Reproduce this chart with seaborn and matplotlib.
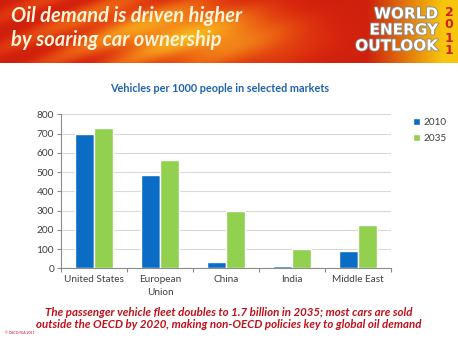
import numpy as np
import pandas as pd
import matplotlib
matplotlib.use("Agg")
import matplotlib.pyplot as plt
import matplotlib.patheffects as pe
import seaborn as sns
from matplotlib.colors import LinearSegmentedColormap

# Vehicles per 1000 people
markets = ["United States", "European\nUnion", "China", "India", "Middle East"]
v2010 = [696, 483, 33, 12, 90]
v2035 = [730, 563, 298, 102, 225]
years = ["2010", "2035"]
y_ticks = [0, 100, 200, 300, 400, 500, 600, 700, 800]

df = pd.DataFrame({
    "market": markets * 2,
    "year": [years[0]] * len(markets) + [years[1]] * len(markets),
    "vehicles": v2010 + v2035,
})

sns.set_theme(style="white")
plt.rcParams["font.family"] = ["Lato", "DejaVu Sans"]

W, H = 458, 343
fig = plt.figure(figsize=(W / 100, H / 100), dpi=100)
fig.patch.set_facecolor("white")

# ---- header banner ----
hdr = fig.add_axes([0, 1 - 63 / H, 1, 63 / H])
hdr.set_axis_off()
nx, ny = 460, 63
xx, yy = np.meshgrid(np.linspace(0, 1, nx), np.linspace(0, 1, ny))
glow = np.exp(-((xx - 0.42) ** 2 / 0.05 + (yy - 0.55) ** 2 / 0.25))
streak = 0.25 * np.sin(18 * xx + 6 * yy) ** 2 * np.exp(-((xx - 0.2) ** 2) / 0.08)
field = np.clip(0.15 + 0.65 * glow + streak, 0, 1)
cmap = LinearSegmentedColormap.from_list(
    "banner", ["#b8140c", "#d8260e", "#ea5a12", "#f5901a", "#f8c21a"])
hdr.imshow(field, cmap=cmap, aspect="auto", extent=[0, 1, 0, 1], origin="upper",
           vmin=0, vmax=1)
# yellow right corner
yel = np.clip((xx - 0.8) * 6, 0, 1)
rgba = np.zeros((ny, nx, 4))
rgba[..., 0] = 0.97
rgba[..., 1] = 0.78
rgba[..., 2] = 0.05
rgba[..., 3] = yel
hdr.imshow(rgba, aspect="auto", extent=[0, 1, 0, 1], origin="upper")
hdr.set_xlim(0, 1)
hdr.set_ylim(0, 1)

fig.text(11 / W, 1 - 16 / H, "Oil demand is driven higher", color="#fff3d8",
         fontsize=14.5, fontweight="bold", fontstyle="italic", va="center", ha="left")
fig.text(11 / W, 1 - 40 / H, "by soaring car ownership", color="#fff3d8",
         fontsize=14.5, fontweight="bold", fontstyle="italic", va="center", ha="left")

for i, word in enumerate(["WORLD", "ENERGY", "OUTLOOK"]):
    fig.text(438 / W, 1 - (14 + 16 * i) / H, word, color="white", fontsize=11,
             fontweight="heavy", ha="right", va="center",
             family=["DejaVu Sans"],
             path_effects=[pe.withStroke(linewidth=1.2, foreground="#8a8a8a")])
for i, d in enumerate("2011"):
    fig.text(449 / W, 1 - (12 + 13 * i) / H, d, color="#d0201a", fontsize=9,
             fontweight="bold", ha="center", va="center", family=["DejaVu Sans"])

# ---- chart ----
ax = fig.add_axes([61 / W, 1 - 268.3 / H, 330 / W, 154 / H])
sns.barplot(data=df, x="market", y="vehicles", hue="year", order=markets,
            hue_order=years, palette=["#0a6cc4", "#92d050"], width=0.58,
            gap=0, saturation=1, ax=ax, legend=True)

ax.set_ylim(0, 800)
ax.set_yticks(y_ticks)
ax.set_xlim(-0.5, len(markets) - 0.5)
ax.set_xlabel("")
ax.set_ylabel("")
ax.yaxis.grid(True, color="#d9d9d9", linewidth=0.8)
ax.set_axisbelow(True)
for s in ["top", "right"]:
    ax.spines[s].set_visible(False)
for s in ["left", "bottom"]:
    ax.spines[s].set_color("#8c8c8c")
    ax.spines[s].set_linewidth(0.8)
ax.tick_params(axis="y", length=3, width=0.8, color="#8c8c8c", labelsize=7.3,
               labelcolor="#404040", pad=2, left=True)
ax.tick_params(axis="x", length=0, labelsize=7.2, labelcolor="#404040", pad=5)
ax.set_xticks(np.arange(-0.5, len(markets)), minor=True)
ax.tick_params(axis="x", which="minor", length=3, width=0.8, color="#8c8c8c", bottom=True)
for lbl in ax.get_xticklabels():
    lbl.set_linespacing(1.5)

handles, labels = ax.get_legend_handles_labels()
ax.get_legend().remove()
fig.legend(handles, labels, loc="upper left", bbox_to_anchor=(404 / W, 1 - 109 / H),
           frameon=False, fontsize=7.2, handlelength=0.7, handleheight=0.7,
           handletextpad=0.3, labelspacing=0.65, labelcolor="#404040")

fig.text(220 / W, 1 - 88 / H, "Vehicles per 1000 people in selected markets",
         color="#1f64ad", fontsize=7.8, fontweight="bold", ha="center", va="center")

fig.text(229 / W, 1 - 312 / H,
         "The passenger vehicle fleet doubles to 1.7 billion in 2035; most cars are sold",
         color="#c0101a", fontsize=8.3, fontweight="bold", fontstyle="italic",
         ha="center", va="center")
fig.text(229 / W, 1 - 325 / H,
         "outside the OECD by 2020, making non-OECD policies key to global oil demand",
         color="#c0101a", fontsize=8.3, fontweight="bold", fontstyle="italic",
         ha="center", va="center")
fig.text(5 / W, 1 - 333 / H, "© OECD/IEA 2011", color="#c0101a", fontsize=2.5,
         ha="left", va="center")

fig.savefig("out.png", dpi=100)
